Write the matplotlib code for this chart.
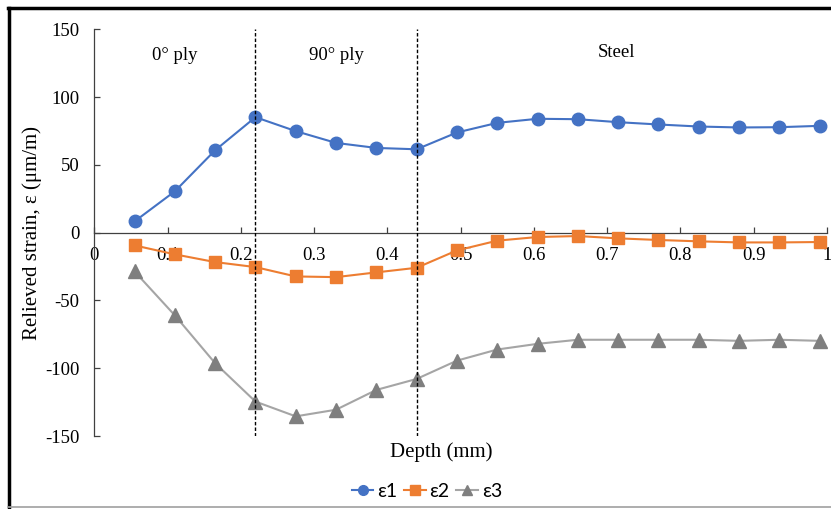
import matplotlib.pyplot as plt
from matplotlib.lines import Line2D

plt.rcParams.update({
    "font.family": "Liberation Serif",
    "font.size": 13.5,
    "axes.unicode_minus": False,
    "figure.facecolor": "white",
    "axes.facecolor": "white",
})

BLUE = "#4472C4"
ORANGE = "#ED7D31"
GRAY_LINE = "#A5A5A5"
GRAY_MARK = "#7F7F7F"

# depth (mm) of each measurement step
depth = [0.055, 0.11, 0.165, 0.22, 0.275, 0.33, 0.385, 0.44, 0.495,
         0.55, 0.605, 0.66, 0.715, 0.77, 0.825, 0.88, 0.935, 0.99]
eps1 = [8.3, 30.5, 60.8, 85.2, 74.9, 66.2, 62.5, 61.5, 73.9,
        81.0, 84.0, 83.7, 81.5, 79.8, 78.3, 77.6, 77.8, 78.8]
eps2 = [-9.4, -16.0, -21.7, -25.4, -32.3, -32.8, -29.3, -25.9, -13.1,
        -5.9, -3.2, -2.5, -4.2, -5.4, -6.4, -7.2, -7.2, -6.9]
eps3 = [-28.6, -61.0, -96.3, -124.6, -135.5, -130.6, -116.0, -107.9, -94.4,
        -86.2, -82.0, -79.0, -79.0, -79.0, -79.0, -79.8, -79.0, -79.8]

boundaries = [0.22, 0.44]
regions = ["0° ply", "90° ply", "Steel"]
region_x = [0.110, 0.330, 0.713]
region_y = [131, 131, 133]

fig = plt.figure(figsize=(8.31, 5.09), dpi=100)
ax = fig.add_axes([0.1134, 0.1434, 0.8818, 0.7990])

ax.plot(depth, eps1, color=BLUE, lw=1.5, marker="o", ms=9,
        markerfacecolor=BLUE, markeredgecolor=BLUE, label="ε1", zorder=3)
ax.plot(depth, eps2, color=ORANGE, lw=1.5, marker="s", ms=8,
        markerfacecolor=ORANGE, markeredgecolor=ORANGE, label="ε2", zorder=3)
ax.plot(depth, eps3, color=GRAY_LINE, lw=1.5, marker="^", ms=9.5,
        markerfacecolor=GRAY_MARK, markeredgecolor=GRAY_MARK, label="ε3", zorder=3)

for b in boundaries:
    ax.vlines(b, -150, 150, colors="black", linestyles=(0, (2.5, 1.5)), lw=1.0, zorder=4)

for txt, x, y in zip(regions, region_x, region_y):
    ax.text(x, y, txt, ha="center", va="center", fontsize=13.5)

ax.set_xlim(0, 1)
ax.set_ylim(-150, 150)
ax.set_xticks([0, 0.1, 0.2, 0.3, 0.4, 0.5, 0.6, 0.7, 0.8, 0.9, 1])
ax.set_xticklabels(["0", "0.1", "0.2", "0.3", "0.4", "0.5", "0.6", "0.7", "0.8", "0.9", "1"])
ax.set_yticks([-150, -100, -50, 0, 50, 100, 150])

ax.spines["top"].set_visible(False)
ax.spines["right"].set_visible(False)
ax.spines["bottom"].set_position(("data", 0))
for s in ("left", "bottom"):
    ax.spines[s].set_color("#404040")
    ax.spines[s].set_linewidth(0.9)
ax.tick_params(axis="both", direction="in", length=4, width=0.9, color="#404040",
               labelsize=13.5)
ax.tick_params(axis="x", pad=10)
ax.tick_params(axis="y", pad=10.5)

ax.set_xlabel("Depth (mm)", fontsize=15)
ax.xaxis.set_label_coords(0.473, -0.015)
ax.set_ylabel("Relieved strain, ε (μm/m)", fontsize=15)
ax.yaxis.set_label_coords(-0.071, 0.5)

handles = [
    Line2D([], [], color=BLUE, lw=1.5, marker="o", ms=7, markerfacecolor=BLUE, markeredgecolor=BLUE),
    Line2D([], [], color=ORANGE, lw=1.5, marker="s", ms=7, markerfacecolor=ORANGE, markeredgecolor=ORANGE),
    Line2D([], [], color=GRAY_LINE, lw=1.5, marker="^", ms=7, markerfacecolor=GRAY_MARK, markeredgecolor=GRAY_MARK),
]
fig.legend(handles, ["ε1", "ε2", "ε3"], loc="center", bbox_to_anchor=(427 / 831, 1 - 491.5 / 509),
           ncol=3, frameon=False, prop={"family": "Lato", "size": 14},
           handlelength=1.1, handletextpad=0.2, columnspacing=0.35)

# outer frame: black top/left, gray bottom
fig.add_artist(Line2D([0.010, 1.0], [0.984, 0.984], transform=fig.transFigure, color="black", lw=2.5))
fig.add_artist(Line2D([0.011, 0.011], [0.002, 0.985], transform=fig.transFigure, color="black", lw=2.5))
fig.add_artist(Line2D([0.010, 1.0], [0.003, 0.003], transform=fig.transFigure, color="#A0A0A0", lw=1.2))

fig.savefig("out.png", dpi=100)
